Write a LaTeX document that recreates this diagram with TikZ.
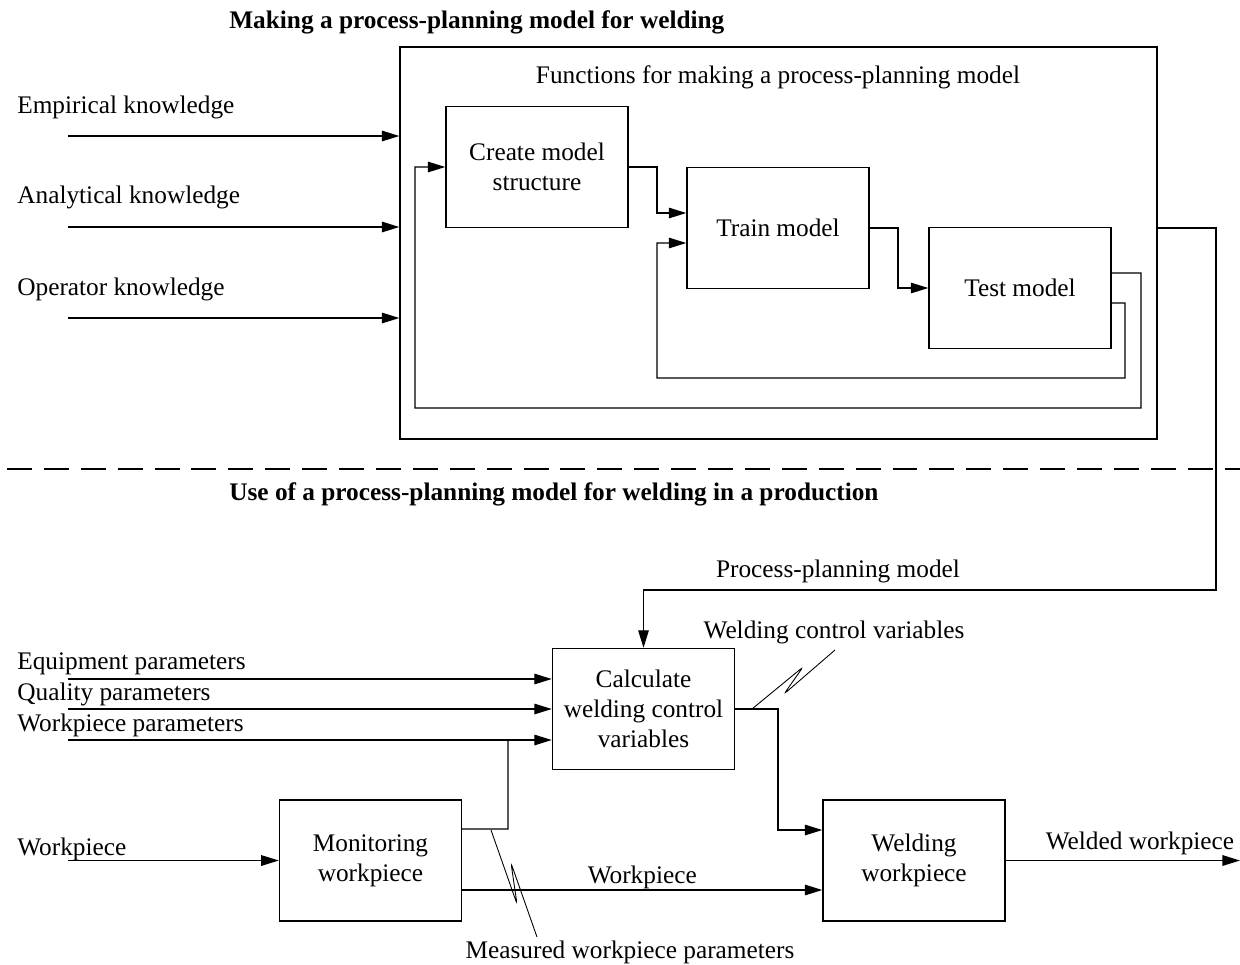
\documentclass[tikz,border=0pt]{standalone}
\usepackage{fontspec}
\setmainfont{Liberation Serif}
\usepackage{tikz}
\usetikzlibrary{positioning}
\usetikzlibrary{arrows.meta}
\tikzstyle{funcbox} = [rectangle, minimum width=3.64cm, minimum height=2.42cm, text centered, align=center, draw=black, line width=0.8pt]
\tikzstyle{label} = [inner sep=0pt, anchor=west]
\tikzstyle{line} = [line width=0.8pt]
\tikzstyle{arrow} = [line width=0.8pt, -{Triangle[length=10pt, width=6pt]}]
\tikzstyle{leader} = [line width=0.5pt, rounded corners=2pt]

\begin{document}
\begin{tikzpicture}[x=0.02cm, y=-0.02cm, font=\fontsize{14.4}{17}\selectfont]
        \useasboundingbox (0,0) rectangle (1240,964);
        % upper part
        \node (title1) [label, font=\fontsize{14.4}{17}\selectfont\bfseries] at (229,22) {Making a process-planning model for welding};
        \node (frame) [draw=black, line width=0.8pt, minimum width=15.14cm, minimum height=7.84cm, inner sep=0pt] at (778.5,243) {};
        \node (frametitle) at (778,77) {Functions for making a process-planning model};
        \node (create) [funcbox] at (537,167) {Create model\\structure};
        \node (train) [funcbox] at (778,228) {Train model};
        \node (test) [funcbox] at (1020,288) {Test model};

        \node (empirical) [label] at (17,107) {Empirical knowledge};
        \node (analytical) [label] at (17,197) {Analytical knowledge};
        \node (operator) [label] at (17,289) {Operator knowledge};
        \coordinate (inA) at (68,136);
        \coordinate (inB) at (68,227);
        \coordinate (inC) at (68,318);
        \draw [arrow] (inA) -- (inA -| frame.west);
        \draw [arrow] (inB) -- (inB -| frame.west);
        \draw [arrow] (inC) -- (inC -| frame.west);

        \draw [arrow] (create.east) -- (657,167) |- ([yshift=0.3cm]train.west);
        \draw [arrow] (train.east) -- (898,228) |- (test.west);
        \draw [arrow] ([yshift=-0.3cm]test.east) -- (1125,303) -- (1125,378) -- (657,378) |- ([yshift=-0.3cm]train.west);
        \draw [arrow] ([yshift=0.3cm]test.east) -- (1141,273) -- (1141,408) -- (415,408) |- (create.west);

        % separator
        \draw [line, dash pattern=on 14.2pt off 6.8pt] (7,469) -- (1240,469);
        \node (title2) [label, font=\fontsize{14.4}{17}\selectfont\bfseries] at (229,494) {Use of a process-planning model for welding in a production};

        % lower part
        \node (calc) [funcbox] at (643.5,709) {Calculate\\welding control\\variables};
        \node (monitor) [funcbox] at (370.5,860.5) {Monitoring\\workpiece};
        \node (weld) [funcbox] at (914,860.5) {Welding\\workpiece};

        \draw [arrow] (frame.east |- train) -- (1216,228) -- (1216,590) -- (643.5,590) -- (calc.north);
        \node (ppmodel) at (838,571) {Process-planning model};

        \node (equip) [label] at (17,664) {Equipment parameters};
        \node (quality) [label] at (17,694) {Quality parameters};
        \node (wpparam) [label] at (17,725) {Workpiece parameters};
        \coordinate (inD) at (68,679);
        \coordinate (inE) at (68,709);
        \coordinate (inF) at (68,740);
        \draw [arrow] (inD) -- (inD -| calc.west);
        \draw [arrow] (inE) -- (inE -| calc.west);
        \draw [arrow] (inF) -- (inF -| calc.west);
        \draw [line] ([yshift=0.63cm]monitor.east) -- (508,829) -- (508,740);

        \node (wpin) [label] at (17,849) {Workpiece};
        \coordinate (inG) at (68,860.5);
        \draw [arrow] (inG) -- (monitor.west);
        \draw [arrow] ([yshift=-0.59cm]monitor.east) -- ([yshift=-0.59cm]weld.west) node[midway, above=-3pt] (wpmid) {Workpiece};
        \draw [arrow] (calc.east) -- (778,709) |- ([yshift=0.61cm]weld.west);
        \draw [arrow] (weld.east) -- (1240,860.5);
        \node (welded) at (1140,843) {Welded workpiece};

        % leaders
        \node (wcv) at (834,632) {Welding control variables};
        \coordinate (wcvA) at (752,709);
        \draw [leader] (wcvA) -- (803,667) -- (784,694) -- (835,650);
        \node (mwp) at (630,952) {Measured workpiece parameters};
        \coordinate (mwpA) at (491,830);
        \draw [leader] (mwpA) -- (517,904) -- (511,863) -- (537,937);
    \end{tikzpicture}
\end{document}
